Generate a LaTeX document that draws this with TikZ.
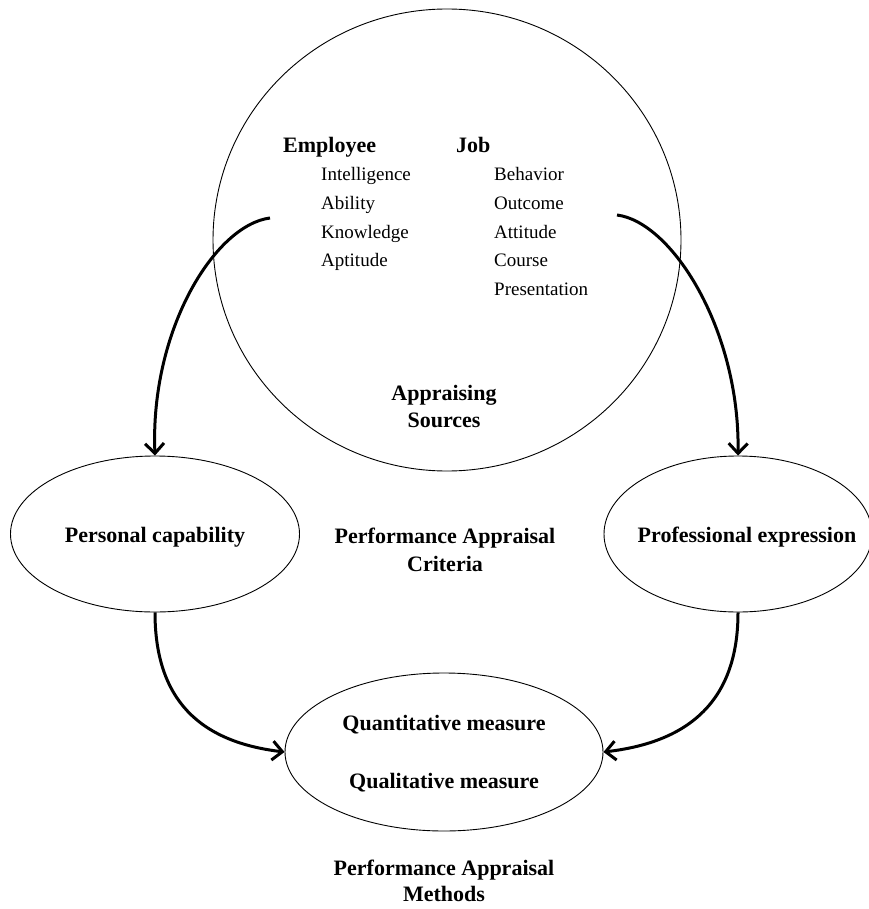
\documentclass[tikz,border=0pt]{standalone}
\usepackage{fontspec}
\setmainfont{Liberation Serif}
\usetikzlibrary{arrows.meta,shapes.geometric}
\begin{document}
\begin{tikzpicture}[x=1pt,y=-1pt,
  oval/.style={ellipse,draw,line width=0.9pt,inner sep=0pt},
  boldtext/.style={font=\fontsize{22}{26}\selectfont\bfseries,inner sep=0pt,anchor=base},
  itemtext/.style={font=\fontsize{19}{23}\selectfont,inner sep=0pt,anchor=base west},
  flow/.style={line width=3pt,-{Straight Barb[length=10pt,width=19pt]}}]
\useasboundingbox (0,0) rectangle (868,909);
% shapes
\node[oval,minimum width=468pt,minimum height=462pt] (src) at (447,240) {};
\node[oval,minimum width=289pt,minimum height=156pt] (pc) at (155,534) {};
\node[oval,minimum width=268pt,minimum height=156pt] (pe) at (738,534) {};
\node[oval,minimum width=318pt,minimum height=158pt] (meth) at (444,752) {};
% circle contents
\node[boldtext,anchor=base west] (emp) at (283,153) {Employee};
\node[boldtext,anchor=base west] (job) at (456,153) {Job};
\foreach \t [count=\i] in {Intelligence,Ability,Knowledge,Aptitude}
  \node[itemtext] (e\i) at (321,{152.5+28.5*\i}) {\t};
\foreach \t [count=\i] in {Behavior,Outcome,Attitude,Course,Presentation}
  \node[itemtext] (j\i) at (494,{152.5+28.5*\i}) {\t};
\node[boldtext] (as1) at (444,400) {Appraising};
\node[boldtext] (as2) at (444,427) {Sources};
% ellipse labels
\node[boldtext] (pcl) at (155,542) {Personal capability};
\node[boldtext] (pel) at (747,542) {Professional expression};
\node[boldtext] (cr1) at (445,543) {Performance Appraisal};
\node[boldtext] (cr2) at (445,571) {Criteria};
\node[boldtext] (m1) at (444,730) {Quantitative measure};
\node[boldtext] (m2) at (444,788) {Qualitative measure};
\node[boldtext] (mt1) at (444,875) {Performance Appraisal};
\node[boldtext] (mt2) at (444,901) {Methods};
% connectors
\coordinate (cL) at (270,218);
\coordinate (cR) at (617,215);
\draw[flow] (cL) .. controls (215,225) and (150,330) .. (pc.north);
\draw[flow] (cR) .. controls (672,222) and (740,330) .. (pe.north);
\draw[flow] (pc.south) .. controls (155,700) and (200,742) .. (meth.west);
\draw[flow] (pe.south) .. controls (738,700) and (690,742) .. (meth.east);
\end{tikzpicture}
\end{document}
